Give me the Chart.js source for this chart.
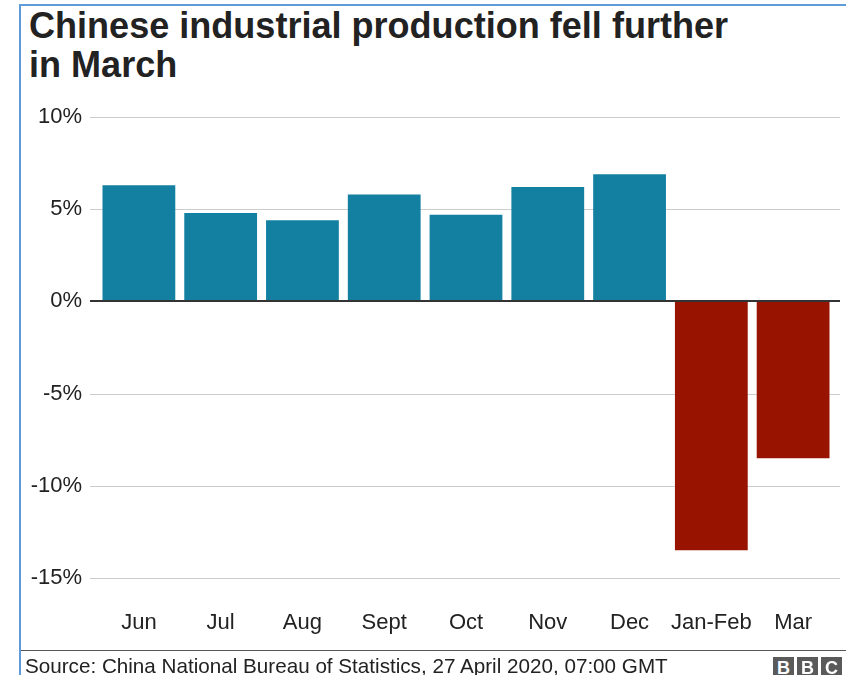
<!DOCTYPE html>
<html>
<head>
<meta charset="utf-8">
<script src="https://cdn.jsdelivr.net/npm/chart.js@4.4.0/dist/chart.umd.min.js"></script>
<style>
  body { margin: 0; width: 846px; height: 675px; overflow: hidden; background: #fff;
         font-family: "Liberation Sans", Arial, Helvetica, sans-serif; position: relative; }
  #frame { position: absolute; left: 19px; top: 4px; width: 827px; height: 680px;
           border-left: 2px solid #5d9bd9; border-top: 2px solid #5d9bd9; }
  #chart { position: absolute; left: 0; top: 0; }
  .title { position: absolute; left: 29px; font-weight: bold; font-size: 36px; line-height: 39px;
           color: #222; white-space: nowrap; transform-origin: 0 0; }
  #sep { position: absolute; left: 21px; top: 650px; width: 825px; height: 1px; background: #555; }
  #source { position: absolute; left: 25px; top: 654px; font-size: 21px; line-height: 24px;
            color: #222; white-space: nowrap; transform-origin: 0 0; }
  .bbc { position: absolute; top: 657px; width: 21px; height: 22px; background: #5a5a5a; color: #fff;
         font-weight: bold; font-size: 18px; line-height: 22px; text-align: center; }
</style>
</head>
<body>
<div id="frame"></div>
<div class="title" id="t1" style="top:6px">Chinese industrial production fell further</div>
<div class="title" id="t2" style="top:45px">in March</div>
<canvas id="chart" width="846" height="675"></canvas>
<div id="sep"></div>
<div id="source">Source: China National Bureau of Statistics, 27 April 2020, 07:00 GMT</div>
<div class="bbc" style="left:773px">B</div>
<div class="bbc" style="left:797px">B</div>
<div class="bbc" style="left:821px">C</div>
<script>
// values (% change year on year)
const months = ['Jun', 'Jul', 'Aug', 'Sept', 'Oct', 'Nov', 'Dec', 'Jan-Feb', 'Mar'];
const growth = [6.3, 4.8, 4.4, 5.8, 4.7, 6.2, 6.9, -13.5, -8.5];
const yMin = -15, yMax = 10, yStep = 5;

// squeeze text to the widths seen in the picture
function fitWidth(id, w) {
  const el = document.getElementById(id);
  const k = w / el.offsetWidth;
  el.style.transform = 'scaleX(' + k + ')';
  return k;
}
const k = fitWidth('t1', 699);
document.getElementById('t2').style.transform = 'scaleX(' + k + ')';
fitWidth('source', 643);

const bbcGrid = {
  id: 'bbcGrid',
  beforeDatasetsDraw(chart) {
    const { ctx, chartArea, scales: { y } } = chart;
    ctx.save();
    ctx.strokeStyle = '#cccccc';
    ctx.lineWidth = 1;
    y.ticks.forEach(t => {
      if (t.value === 0) return;
      const py = Math.round(y.getPixelForValue(t.value)) + 0.5;
      ctx.beginPath();
      ctx.moveTo(chartArea.left - 8, py);
      ctx.lineTo(chartArea.right + 6, py);
      ctx.stroke();
    });
    ctx.restore();
  },
  afterDatasetsDraw(chart) {
    const { ctx, chartArea, scales: { y } } = chart;
    const py = Math.round(y.getPixelForValue(0));
    ctx.save();
    ctx.strokeStyle = '#333333';
    ctx.lineWidth = 2;
    ctx.beginPath();
    ctx.moveTo(chartArea.left - 8, py);
    ctx.lineTo(chartArea.right + 6, py);
    ctx.stroke();
    ctx.restore();
  }
};

const ctx = document.getElementById('chart').getContext('2d');
const chart = new Chart(ctx, {
  type: 'bar',
  data: {
    labels: months,
    datasets: [{
      data: growth,
      backgroundColor: growth.map(v => v < 0 ? '#991400' : '#1380a1'),
      borderWidth: 0,
      categoryPercentage: 1.0,
      barPercentage: 0.89
    }]
  },
  options: {
    responsive: false,
    animation: false,
    events: [],
    layout: { padding: { left: 20, right: 12, top: 117, bottom: 37 } },
    plugins: { legend: { display: false }, tooltip: { enabled: false } },
    scales: {
      x: {
        grid: { display: false, drawTicks: false },
        border: { display: false },
        ticks: { color: '#222', font: { family: '"Liberation Sans", Arial', size: 22 }, padding: 32,
                 maxRotation: 0, autoSkip: false },
        afterFit(s) { s.height = 60; }
      },
      y: {
        min: yMin,
        max: yMax,
        grid: { display: false, drawTicks: false },
        border: { display: false },
        ticks: {
          stepSize: yStep,
          color: '#222',
          padding: 16,
          font: { family: '"Liberation Sans", Arial', size: 22 },
          callback: v => v + '%'
        },
        afterFit(s) { s.width = 78; }
      }
    }
  },
  plugins: [bbcGrid]
});
</script>
</body>
</html>
